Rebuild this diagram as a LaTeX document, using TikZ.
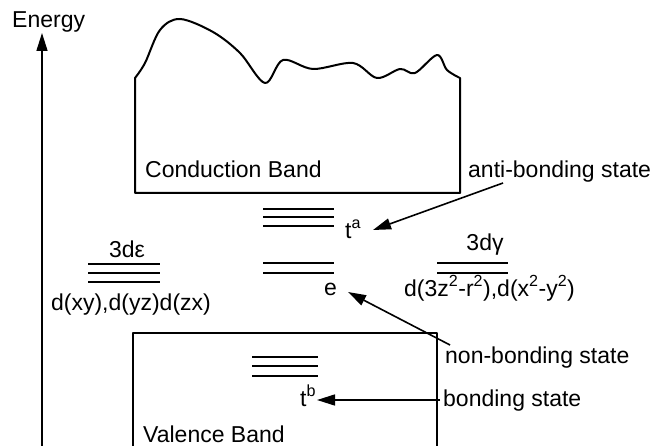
\documentclass[tikz,border=0pt]{standalone}
\usepackage{fontspec}
\setmainfont{Liberation Sans}
\usetikzlibrary{arrows.meta,positioning}
\definecolor{ink}{HTML}{000000}

\begin{document}
\begin{tikzpicture}[x=1pt,y=-1pt,
  lbl/.style={font=\fontsize{23}{27}\selectfont,inner sep=0pt,anchor=base west},
  band/.style={ink,line width=2pt,line join=round},
  level/.style={ink,line width=2pt},
  ptr/.style={ink,line width=1.6pt,-{Triangle[length=18pt,width=11pt]}}]
  \useasboundingbox (0,0) rectangle (660,446);

  % Energy axis
  \node[lbl] (energy) at (12,28) {Energy};
  \coordinate (axtop) at (42,33);
  \coordinate (axbot) at (42,447);
  \draw[ptr] (axbot) -- (axtop);

  % Conduction band
  \draw[band] (460,193) -- (135,193) -- plot[smooth,tension=0.55] coordinates {
    (135,78) (145,63) (160,30) (180,19) (213,32) (240,53) (265,83) (283,60)
    (313,69) (353,63) (377,78) (400,69) (415,73) (437,55) (447,70) (460,78)} -- cycle;
  \node[lbl] (cb) at (145,178) {Conduction Band};

  % Valence band
  \draw[band] (133,447) -- (133,333) -- (437,333) -- (437,447);
  \node[lbl] (vb) at (143,442) {Valence Band};

  % Levels
  \foreach \y in {209,217,226} \draw[level] (263,\y) -- (334,\y);
  \foreach \y in {263,273} \draw[level] (263,\y) -- (334,\y);
  \foreach \y in {264,273,282} \draw[level] (88,\y) -- (160,\y);
  \foreach \y in {263,273} \draw[level] (437,\y) -- (508,\y);
  \foreach \y in {357,366,376} \draw[level] (252,\y) -- (318,\y);

  \node[lbl,anchor=base] (deps) at (127,257) {3dε};
  \node[lbl,anchor=base] (depsorb) at (131,310) {d(xy),d(yz)d(zx)};
  \node[lbl,anchor=base] (dgam) at (485,250) {3dγ};
  \node[lbl] (dgamorb) at (404,296) {d(3z\textsuperscript{2}-r\textsuperscript{2}),d(x\textsuperscript{2}-y\textsuperscript{2})};
  \node[lbl] (ta) at (345,238) {t\textsuperscript{a}};
  \node[lbl] (e) at (324,295) {e};
  \node[lbl] (tb) at (300,406) {t\textsuperscript{b}};

  % States
  \node[lbl] (anti) at (468,178) {anti-bonding state};
  \node[lbl] (nonb) at (445,363) {non-bonding state};
  \node[lbl] (bond) at (443,406) {bonding state};

  \coordinate (antitail) at (503,183);
  \coordinate (tatip) at (373,230);
  \coordinate (nonbtail) at (450,345);
  \coordinate (etip) at (348,292);
  \coordinate (bondtail) at (440,400);
  \coordinate (tbtip) at (317,400);
  \draw[ptr] (antitail) -- (tatip);
  \draw[ptr] (nonbtail) -- (etip);
  \draw[ptr] (bondtail) -- (tbtip);
\end{tikzpicture}
\end{document}
